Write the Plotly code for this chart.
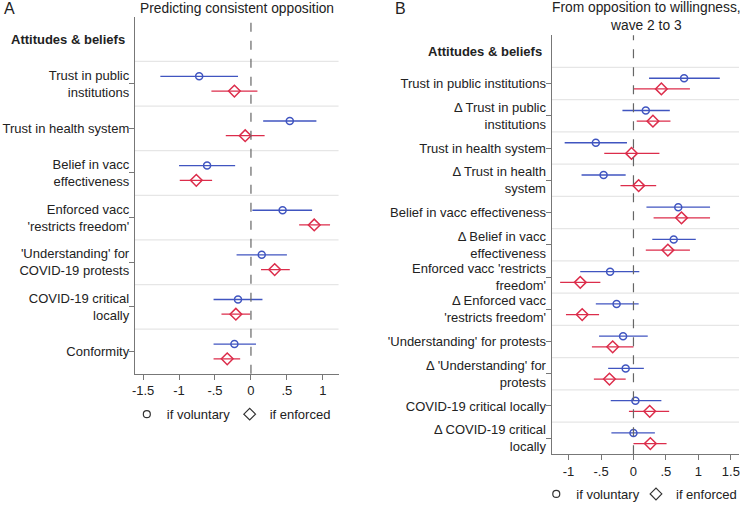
import plotly.graph_objects as go

# ---------------- Data ----------------
labels_a = ["Trust in public<br>institutions", "Trust in health system", "Belief in vacc<br>effectiveness",
            "Enforced vacc<br>'restricts freedom'", "'Understanding' for<br>COVID-19 protests",
            "COVID-19 critical<br>locally", "Conformity"]
a_vol = [-0.72, 0.54, -0.61, 0.44, 0.15, -0.18, -0.23]
a_vol_lo = [-1.26, 0.17, -1.00, 0.02, -0.20, -0.52, -0.52]
a_vol_hi = [-0.18, 0.91, -0.22, 0.85, 0.50, 0.16, 0.07]
a_enf = [-0.23, -0.08, -0.76, 0.88, 0.33, -0.21, -0.33]
a_enf_lo = [-0.55, -0.35, -0.99, 0.67, 0.14, -0.41, -0.52]
a_enf_hi = [0.09, 0.19, -0.54, 1.10, 0.54, -0.01, -0.15]

labels_b = ["Trust in public institutions", "Δ Trust in public<br>institutions", "Trust in health system",
            "Δ Trust in health<br>system", "Belief in vacc effectiveness", "Δ Belief in vacc<br>effectiveness",
            "Enforced vacc 'restricts<br>freedom'", "Δ Enforced vacc<br>'restricts freedom'",
            "'Understanding' for protests", "Δ 'Understanding' for<br>protests",
            "COVID-19 critical locally", "Δ COVID-19 critical<br>locally"]
b_vol = [0.78, 0.19, -0.58, -0.46, 0.69, 0.62, -0.36, -0.26, -0.16, -0.12, 0.03, 0.00]
b_vol_lo = [0.24, -0.17, -1.06, -0.80, 0.20, 0.29, -0.82, -0.58, -0.53, -0.39, -0.35, -0.34]
b_vol_hi = [1.33, 0.56, -0.10, -0.12, 1.18, 0.96, 0.09, 0.08, 0.22, 0.16, 0.43, 0.33]
b_enf = [0.43, 0.30, -0.03, 0.08, 0.74, 0.53, -0.82, -0.79, -0.32, -0.37, 0.25, 0.26]
b_enf_lo = [0.00, 0.05, -0.45, -0.20, 0.31, 0.19, -1.13, -1.04, -0.64, -0.61, -0.07, 0.00]
b_enf_hi = [0.87, 0.57, 0.40, 0.35, 1.18, 0.87, -0.51, -0.53, 0.00, -0.12, 0.55, 0.51]

ticks_a = [-1.5, -1, -0.5, 0, 0.5, 1]
ticktext_a = ["-1.5", "-1", "-.5", "0", ".5", "1"]
ticks_b = [-1, -0.5, 0, 0.5, 1, 1.5]
ticktext_b = ["-1", "-.5", "0", ".5", "1", "1.5"]

BLUE = "#4055c0"
RED = "#dc2d4b"
FONT = "Arial, Liberation Sans, sans-serif"
W, H = 742, 509
OFF = 0.165

fig = go.Figure()


def add_panel(labels, vol, vlo, vhi, enf, elo, ehi, xa, ya, leg_vol, leg_enf):
    n = len(labels)
    ys = list(range(1, n + 1))
    fig.add_trace(go.Scatter(
        x=vol, y=[y - OFF for y in ys], mode="markers", xaxis=xa, yaxis=ya, showlegend=False,
        marker=dict(symbol="circle-open", size=7, color=BLUE, line=dict(width=1.5, color=BLUE)),
        error_x=dict(type="data", symmetric=False,
                     array=[h - v for h, v in zip(vhi, vol)],
                     arrayminus=[v - l for v, l in zip(vol, vlo)],
                     color=BLUE, thickness=1.3, width=0)))
    fig.add_trace(go.Scatter(
        x=enf, y=[y + OFF for y in ys], mode="markers", xaxis=xa, yaxis=ya, showlegend=False,
        marker=dict(symbol="diamond-open", size=9, color=RED, line=dict(width=1.5, color=RED)),
        error_x=dict(type="data", symmetric=False,
                     array=[h - v for h, v in zip(ehi, enf)],
                     arrayminus=[v - l for v, l in zip(enf, elo)],
                     color=RED, thickness=1.3, width=0)))
    # legend entries (each in its own legend box so they can be placed like the original)
    fig.add_trace(go.Scatter(x=[None], y=[None], mode="markers", name="if voluntary", xaxis=xa, yaxis=ya,
                             legend=leg_vol,
                             marker=dict(symbol="circle-open", size=7, color="#333", line=dict(width=1.2))))
    fig.add_trace(go.Scatter(x=[None], y=[None], mode="markers", name="if enforced", xaxis=xa, yaxis=ya,
                             legend=leg_enf,
                             marker=dict(symbol="diamond-open", size=9, color="#333", line=dict(width=1.2))))
    return n


def px_x(p):
    return p / W


def px_y(p):
    return 1 - p / H


nA = add_panel(labels_a, a_vol, a_vol_lo, a_vol_hi, a_enf, a_enf_lo, a_enf_hi, "x", "y", "legend", "legend2")
nB = add_panel(labels_b, b_vol, b_vol_lo, b_vol_hi, b_enf, b_enf_lo, b_enf_hi, "x2", "y2", "legend3", "legend4")

axis_common = dict(showgrid=False, zeroline=False, showline=True, linecolor="#777", linewidth=1,
                   automargin=False,
                   ticks="outside", ticklen=5, tickcolor="#777", tickfont=dict(size=13, color="#222", family=FONT))


def leg(xpx, ypx):
    return dict(x=px_x(xpx), y=px_y(ypx), xanchor="left", yanchor="middle", orientation="h",
                font=dict(size=13, family=FONT, color="#222"), itemwidth=30,
                bgcolor="rgba(0,0,0,0)", borderwidth=0)


fig.update_layout(
    width=W, height=H, margin=dict(l=0, r=0, t=0, b=0, pad=0),
    plot_bgcolor="white", paper_bgcolor="white",
    font=dict(family=FONT, color="#222", size=13),
    xaxis=dict(domain=[px_x(135), px_x(339)], range=[-1.615, 1.218], anchor="y",
               tickvals=ticks_a, ticktext=ticktext_a, **axis_common),
    yaxis=dict(domain=[px_y(379), px_y(17)], range=[nA + 0.5, -0.5], anchor="x",
               tickvals=list(range(1, nA + 1)), ticktext=labels_a, ticklabelstandoff=-3, **axis_common),
    xaxis2=dict(domain=[px_x(552.3), px_x(740)], range=[-1.262, 1.626], anchor="y2",
                tickvals=ticks_b, ticktext=ticktext_b, **axis_common),
    yaxis2=dict(domain=[px_y(460.7), px_y(35.7)], range=[nB + 0.5, -0.5], anchor="x2",
                tickvals=list(range(1, nB + 1)), ticktext=labels_b, ticklabelstandoff=-3, **axis_common),
    legend=leg(127, 420),
    legend2=leg(230, 420),
    legend3=leg(537, 501),
    legend4=leg(637, 501),
)

shapes = []
for xa, ya, n in [("x", "y", nA), ("x2", "y2", nB)]:
    for i in range(n):
        shapes.append(dict(type="line", xref=xa + " domain", yref=ya, x0=0, x1=1, y0=i + 0.5, y1=i + 0.5,
                           line=dict(color="#e6e6e6", width=1.2), layer="below"))
    shapes.append(dict(type="line", xref=xa, yref=ya + " domain", x0=0, x1=0, y0=0, y1=1,
                       line=dict(color="#666", width=1.2, dash="dash")))
fig.update_layout(shapes=shapes)

annotations = [
    dict(text="A", x=px_x(2), y=px_y(9), xref="paper", yref="paper", xanchor="left", yanchor="middle",
         showarrow=False, font=dict(size=16, family=FONT, color="#222")),
    dict(text="B", x=px_x(394), y=px_y(9), xref="paper", yref="paper", xanchor="left", yanchor="middle",
         showarrow=False, font=dict(size=16, family=FONT, color="#222")),
    dict(text="Predicting consistent opposition", x=px_x(237), y=px_y(9), xref="paper", yref="paper",
         xanchor="center", yanchor="middle", showarrow=False, font=dict(size=13.8, family=FONT, color="#222")),
    dict(text="From opposition to willingness,<br>wave 2 to 3", x=px_x(647), y=px_y(17), xref="paper",
         yref="paper", xanchor="center", yanchor="middle", showarrow=False,
         font=dict(size=13.8, family=FONT, color="#222")),
    dict(text="<b>Attitudes & beliefs</b>", x=px_x(127), y=px_y(40), xref="paper", yref="paper",
         xanchor="right", yanchor="middle", showarrow=False, font=dict(size=13, family=FONT, color="#222")),
    dict(text="<b>Attitudes & beliefs</b>", x=px_x(545), y=px_y(52), xref="paper", yref="paper",
         xanchor="right", yanchor="middle", showarrow=False, font=dict(size=13, family=FONT, color="#222")),
]
fig.update_layout(annotations=annotations)

fig.write_html("out.html", config={"displayModeBar": False},
               post_script="document.body.style.margin='0';document.body.style.overflow='hidden';")
